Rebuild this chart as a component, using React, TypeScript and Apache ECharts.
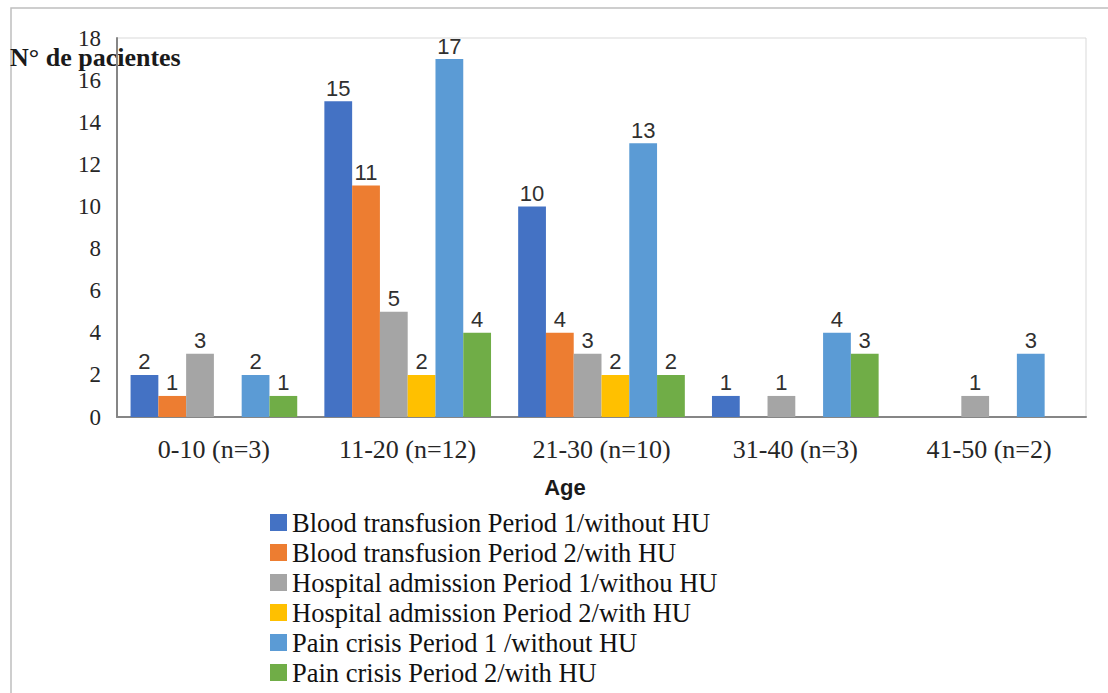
import React, { useEffect, useRef } from "react";
import * as echarts from "echarts";

const categories = ["0-10 (n=3)", "11-20 (n=12)", "21-30 (n=10)", "31-40 (n=3)", "41-50 (n=2)"];
const seriesNames = [
  "Blood transfusion Period 1/without HU",
  "Blood transfusion Period 2/with HU",
  "Hospital admission Period 1/withou HU",
  "Hospital admission Period 2/with HU",
  "Pain crisis Period 1 /without HU",
  "Pain crisis Period 2/with HU",
];
const bloodP1 = [2, 15, 10, 1, null];
const bloodP2 = [1, 11, 4, null, null];
const hospP1 = [3, 5, 3, 1, 1];
const hospP2 = [null, 2, 2, null, null];
const painP1 = [2, 17, 13, 4, 3];
const painP2 = [1, 4, 2, 3, null];
const seriesData = [bloodP1, bloodP2, hospP1, hospP2, painP1, painP2];
const colors = ["#4472C4", "#ED7D31", "#A5A5A5", "#FFC000", "#5B9BD5", "#70AD47"];

const serif = "'Liberation Serif', 'DejaVu Serif', serif";
const sans = "'Liberation Sans', Arial, sans-serif";

export default function App() {
  const ref = useRef<HTMLDivElement>(null);
  useEffect(() => {
    const chart = echarts.init(ref.current!, null, { renderer: "svg" });
    chart.setOption({
      animation: false,
      backgroundColor: "#ffffff",
      color: colors,
      grid: {
        left: 117,
        right: 22,
        top: 38,
        bottom: 276,
        show: true,
        borderColor: "#d9d9d9",
        borderWidth: 1,
      },
      legend: {
        orient: "vertical",
        left: 270,
        top: 509,
        padding: 0,
        itemWidth: 17,
        itemHeight: 17,
        itemGap: 3,
        icon: "rect",
        textStyle: { fontFamily: serif, fontSize: 26.5, color: "#111", lineHeight: 26 },
        data: seriesNames,
      },
      xAxis: {
        type: "category",
        data: categories,
        axisLine: { lineStyle: { color: "#868686", width: 2 } },
        axisTick: { show: false },
        axisLabel: { fontFamily: serif, fontSize: 26, color: "#262626", margin: 19 },
      },
      yAxis: {
        type: "value",
        min: 0,
        max: 18,
        interval: 2,
        axisLine: { show: true, lineStyle: { color: "#868686", width: 2 } },
        axisTick: { show: false },
        splitLine: { show: false },
        axisLabel: { fontFamily: serif, fontSize: 23, color: "#262626", margin: 16 },
      },
      graphic: [
        {
          type: "rect",
          shape: { x: 11, y: 8, width: 1200, height: 800 },
          style: { fill: "none", stroke: "#bfbfbf", lineWidth: 1.5 },
          silent: true,
        },
        {
          type: "text",
          left: 10,
          top: 44,
          style: {
            text: "N° de pacientes",
            font: `bold 26px ${serif}`,
            fill: "#1a1a1a",
          },
        },
        {
          type: "text",
          x: 565,
          y: 487,
          style: {
            text: "Age",
            font: `bold 22px ${sans}`,
            fill: "#1a1a1a",
            align: "center",
            verticalAlign: "middle",
          },
        },
      ],
      series: seriesNames.map((name, i) => ({
        name,
        type: "bar",
        data: seriesData[i],
        barGap: "0%",
        barCategoryGap: "14%",
        itemStyle: { color: colors[i] },
        label: {
          show: true,
          position: "top",
          distance: 2,
          fontFamily: sans,
          fontSize: 22,
          color: "#303030",
        },
      })),
    });
    return () => chart.dispose();
  }, []);
  return (
    <div
      ref={ref}
      style={{ position: "absolute", left: 0, top: 0, width: 1108, height: 693 }}
    />
  );
}
